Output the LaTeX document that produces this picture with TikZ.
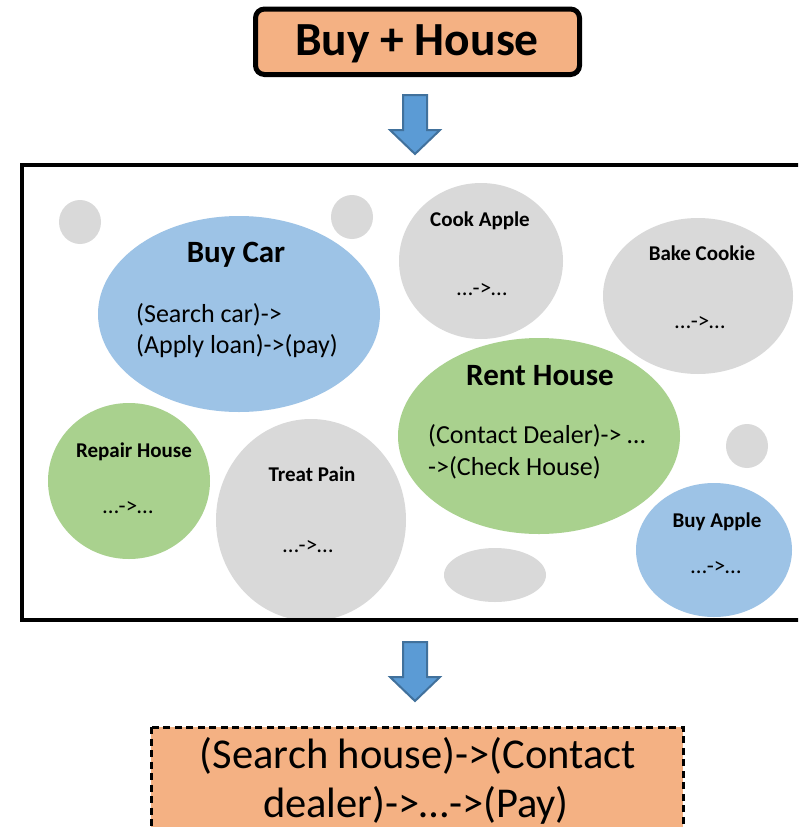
\documentclass[tikz,border=0pt]{standalone}
\usepackage{fontspec}
\setmainfont{Carlito}
\usetikzlibrary{shapes.geometric}
\definecolor{gry}{HTML}{D9D9D9}
\definecolor{blu}{HTML}{9DC3E6}
\definecolor{grn}{HTML}{A9D18E}
\definecolor{org}{HTML}{F4B183}
\definecolor{arrf}{HTML}{5B9BD5}
\definecolor{arrd}{HTML}{41719C}
\begin{document}
\begin{tikzpicture}[x=1pt,y=-1pt,
  blob/.style={ellipse, inner sep=0pt, draw=none},
  bigttl/.style={inner sep=0pt, anchor=base, font=\fontsize{31}{37}\selectfont\bfseries},
  smttl/.style={inner sep=0pt, anchor=base, font=\fontsize{21}{25}\selectfont\bfseries},
  body/.style={inner sep=0pt, anchor=base west, font=\fontsize{26}{31}\selectfont},
  dots/.style={inner sep=0pt, anchor=base, font=\fontsize{23}{28}\selectfont},
  restext/.style={inner sep=0pt, anchor=base, font=\fontsize{42.5}{50}\selectfont},
  blockarrow/.style={draw=arrd, fill=arrf, line width=2pt, line join=miter}]
\useasboundingbox (0,0) rectangle (798,827);
\clip (0,0) rectangle (798,827);
\fill[white] (0,0) rectangle (798,827);

% top box
\draw[line width=5pt, fill=org, rounded corners=9pt] (255.5,9) rectangle (579.5,74.5);
\node[inner sep=0pt, anchor=base, font=\fontsize{47.5}{56}\selectfont\bfseries] (top) at (417,55) {Buy + House};

% arrows
\coordinate (a1) at (415,95);
\draw[blockarrow] (a1) ++(-12,0) -- ++(24,0) -- ++(0,35) -- ++(13,0) -- ++(-25,24) -- ++(-25,-24) -- ++(13,0) -- cycle;
\coordinate (a2) at (415,642);
\draw[blockarrow] (a2) ++(-12,0) -- ++(24,0) -- ++(0,35) -- ++(13,0) -- ++(-25,24) -- ++(-25,-24) -- ++(13,0) -- cycle;

% blobs
\node[blob, fill=gry, minimum width=42pt, minimum height=44pt] (s1) at (80,222) {};
\node[blob, fill=gry, minimum width=42pt, minimum height=44pt] (s2) at (352,217) {};
\node[blob, fill=blu, minimum width=282pt, minimum height=196pt] (buycar) at (239,314) {};
\node[blob, fill=gry, minimum width=164pt, minimum height=156pt] (cook) at (481,261) {};
\node[blob, fill=gry, minimum width=190pt, minimum height=156pt] (bake) at (698,296) {};
\node[blob, fill=grn, minimum width=282pt, minimum height=196pt] (rent) at (539,436) {};
\node[blob, fill=gry, minimum width=42pt, minimum height=44pt] (s3) at (747,446) {};
\node[blob, fill=blu, minimum width=156pt, minimum height=134pt] (buyapple) at (714,550) {};
\node[blob, fill=grn, minimum width=162pt, minimum height=156pt] (repair) at (129,481) {};
\node[blob, fill=gry, minimum width=190pt, minimum height=202pt] (treat) at (311,520) {};
\node[blob, fill=gry, minimum width=102pt, minimum height=54pt] (s4) at (495,575) {};

% texts
\node[bigttl] (t1) at (236,262) {Buy Car};
\node[body] (b1a) at (136,322) {(Search car)->};
\node[body] (b1b) at (136,353) {(Apply loan)->(pay)};
\node[bigttl] (t2) at (540,385) {Rent House};
\node[body] (b2a) at (428,443) {(Contact Dealer)-> …};
\node[body] (b2b) at (428,475) {->(Check House)};
\node[smttl] (t3) at (480,226) {Cook Apple};
\node[dots] (d3) at (482,295) {…->…};
\node[smttl] (t4) at (702,260) {Bake Cookie};
\node[dots] (d4) at (700,328) {…->…};
\node[smttl] (t5) at (717,527) {Buy Apple};
\node[dots] (d5) at (716,573) {…->…};
\node[smttl] (t6) at (134,457) {Repair House};
\node[dots] (d6) at (128,513) {…->…};
\node[smttl] (t7) at (312,481) {Treat Pain};
\node[dots] (d7) at (308,552) {…->…};

% frame
\draw[line width=4.5pt] (840,165) -- (22,165) -- (22,620) -- (840,620);

% bottom dashed box
\draw[line width=3pt, dash pattern=on 7pt off 4.5pt, fill=org] (151,727) rectangle (683,860);
\node[restext] (res1) at (418,768) {(Search house)->(Contact};
\node[restext] (res2) at (416,817) {dealer)->…->(Pay)};
\end{tikzpicture}
\end{document}
